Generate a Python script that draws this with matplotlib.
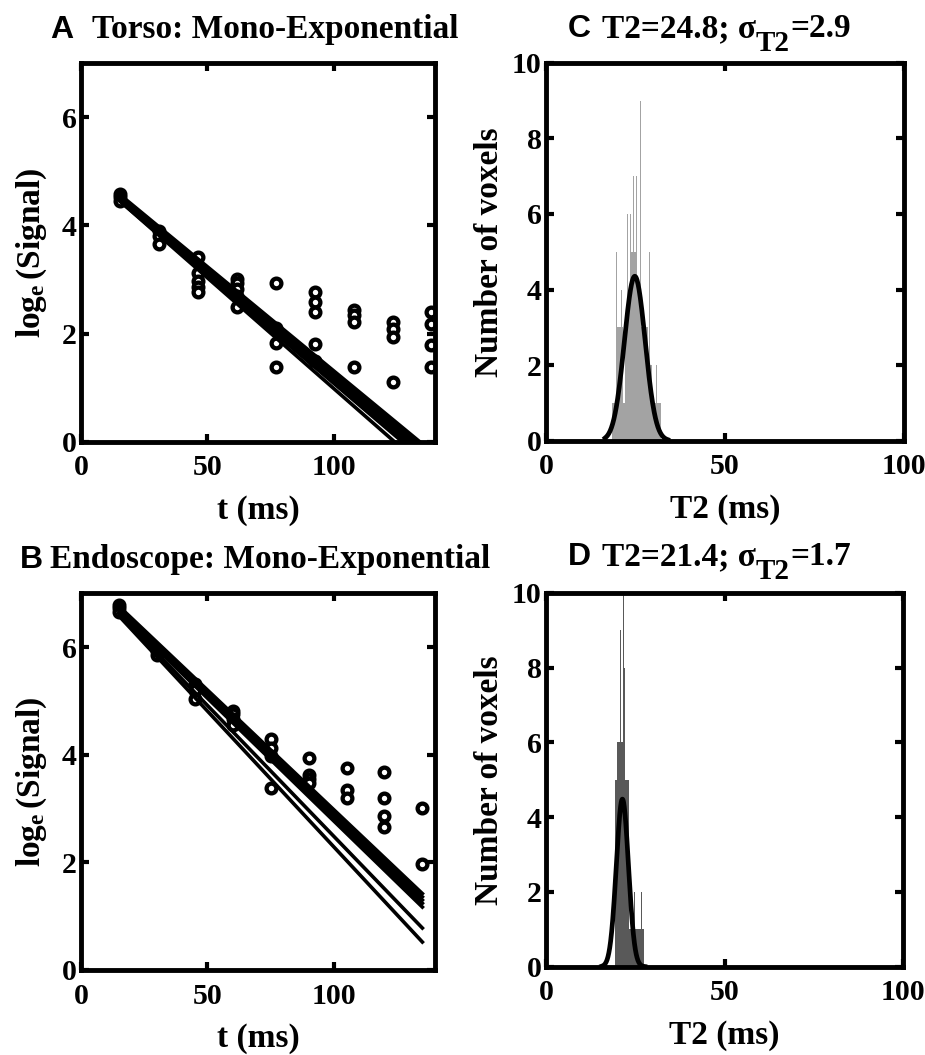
import numpy as np
import matplotlib
matplotlib.use("Agg")
import matplotlib.pyplot as plt

plt.rcParams['font.family'] = ['Liberation Serif', 'DejaVu Serif']
plt.rcParams['font.weight'] = 'bold'
plt.rcParams['axes.labelweight'] = 'bold'
plt.rcParams['mathtext.fontset'] = 'custom'
plt.rcParams['mathtext.rm'] = 'Liberation Serif:bold'
plt.rcParams['mathtext.bf'] = 'Liberation Serif:bold'
plt.rcParams['mathtext.it'] = 'Liberation Serif:bold'

# --- panel A: torso, log signal per echo time ---
torso_te = [15.4, 30.8, 46.2, 61.6, 77.0, 92.4, 107.8, 123.2, 138.6]
torso_signal = [
    [4.58, 4.52, 4.46],
    [3.90, 3.80, 3.66],
    [3.41, 3.12, 2.98, 2.86, 2.77],
    [3.01, 2.94, 2.82, 2.70, 2.49],
    [2.93, 2.10, 1.82, 1.38],
    [2.77, 2.58, 2.40, 1.80, 1.50],
    [2.43, 2.34, 2.21, 1.38],
    [2.21, 2.09, 1.94, 1.11],
    [2.40, 2.18, 1.78, 1.38],
]
# fitted lines: value at first and last echo
torso_fit_start = [4.45, 4.45, 4.48, 4.50, 4.52, 4.55, 4.57]
torso_fit_end = [-0.60, -0.46, -0.40, -0.34, -0.28, -0.22, -0.18]

# --- panel B: endoscope ---
endo_te = [15, 30, 45, 60, 75, 90, 105, 120, 135]
endo_signal = [
    [6.78, 6.72, 6.66],
    [5.92, 5.86],
    [5.32, 5.20, 5.04],
    [4.82, 4.76, 4.67, 4.55],
    [4.29, 4.12, 3.98, 3.38],
    [3.94, 3.63, 3.54, 3.48],
    [3.75, 3.35, 3.20],
    [3.68, 3.20, 2.86, 2.65],
    [3.01, 1.97],
]
endo_fit_start = [6.76, 6.73, 6.70, 6.68, 6.65, 6.62, 6.58]
endo_fit_end = [1.42, 1.36, 1.30, 1.24, 1.17, 0.78, 0.52]

# --- panel C: torso T2 histogram ---
torso_bins = [18.75, 19.25, 19.75, 20.25, 20.75, 21.25, 21.75, 22.25, 22.75,
              23.25, 23.75, 24.25, 24.75, 25.25, 25.75, 26.25, 26.75, 27.25,
              27.75, 28.25, 28.75, 29.25, 29.75, 30.25, 30.75, 31.25, 31.75]
torso_counts = [1, 1, 3, 3, 3, 3, 1, 3, 3, 4, 5, 5, 5, 4, 4, 4, 3, 3,
                3, 3, 2, 2, 1, 1, 1, 1, 1]
torso_spike_t2 = [19.8, 21.1, 22.7, 23.6, 24.4, 25.4, 26.4, 28.9, 31.0]
torso_spike_counts = [5, 4, 6, 6, 7, 7, 9, 5, 2]
torso_mean, torso_sd, torso_peak = 24.8, 2.9, 4.35
torso_fit_range = (16.5, 34.0)

# --- panel D: endoscope T2 histogram ---
endo_bins = [19.5, 20.0, 20.5, 21.0, 21.5, 22.0, 22.5, 23.0, 23.5, 24.0,
             24.5, 25.0, 25.5, 26.0, 26.5, 27.0]
endo_counts = [5, 6, 6, 6, 6, 5, 5, 5, 1, 1, 1, 1, 1, 1, 1, 1]
endo_spike_t2 = [20.9, 21.6, 22.1, 24.9, 26.7, 27.2]
endo_spike_counts = [9, 10, 8, 2, 2, 1]
endo_mean, endo_sd, endo_peak = 21.4, 1.7, 4.48
endo_fit_range = (15.6, 27.7)

W, H = 925, 1055
fig = plt.figure(figsize=(W / 100, H / 100), dpi=100)


def box(px_left, px_top, px_right, px_bottom):
    return [px_left / W, 1 - px_bottom / H,
            (px_right - px_left) / W, (px_bottom - px_top) / H]


def style(ax):
    for s in ax.spines.values():
        s.set_linewidth(3.5)
    ax.tick_params(direction='in', length=6, width=3, top=True, right=True,
                   labelsize=21.5)
    ax.tick_params(axis='x', pad=9)
    ax.tick_params(axis='y', pad=3)


def decay_panel(ax, te, signal, fit_start, fit_end):
    xs = [t for t, vals in zip(te, signal) for _ in vals]
    ys = [v for vals in signal for v in vals]
    ax.plot(xs, ys, 'o', ms=7, mfc='white', mec='black', mew=3.1, zorder=2)
    for y0, y1 in zip(fit_start, fit_end):
        ax.plot([te[0], te[-1]], [y0, y1], color='black', lw=2.6, zorder=3)
    ax.set_xlim(0, 140)
    ax.set_ylim(0, 7)
    ax.set_xticks([0, 50, 100])
    ax.set_yticks([0, 2, 4, 6])
    ax.set_xlabel('t (ms)', fontsize=24, labelpad=10)
    ax.set_ylabel('log$_{\\mathrm{e}}\\,$(Signal)', fontsize=24, labelpad=9)
    style(ax)


def hist_panel(ax, bins, counts, spikes, spike_counts, color, mean, sd, peak, rng):
    ax.bar(bins, counts, width=0.5, color=color, linewidth=0, zorder=1)
    ax.bar(spikes, spike_counts, width=0.28, color=color, linewidth=0, zorder=1)
    x = np.linspace(rng[0], rng[1], 200)
    ax.plot(x, peak * np.exp(-0.5 * ((x - mean) / sd) ** 2), color='black',
            lw=3.4, zorder=3)
    ax.set_xlim(0, 100)
    ax.set_ylim(0, 10)
    ax.set_xticks([0, 50, 100])
    ax.set_yticks([0, 2, 4, 6, 8, 10])
    ax.set_xlabel('T2 (ms)', fontsize=24, labelpad=10)
    ax.set_ylabel('Number of voxels', fontsize=24, labelpad=5)
    style(ax)


ax_a = fig.add_axes(box(81, 63.3, 435, 441.7))
ax_c = fig.add_axes(box(546, 62.7, 904, 440.7))
ax_b = fig.add_axes(box(81, 593.3, 435, 970))
ax_d = fig.add_axes(box(546, 592.7, 903, 966.7))

decay_panel(ax_a, torso_te, torso_signal, torso_fit_start, torso_fit_end)
decay_panel(ax_b, endo_te, endo_signal, endo_fit_start, endo_fit_end)
hist_panel(ax_c, torso_bins, torso_counts, torso_spike_t2, torso_spike_counts,
           '#a3a3a3', torso_mean, torso_sd, torso_peak, torso_fit_range)
hist_panel(ax_d, endo_bins, endo_counts, endo_spike_t2, endo_spike_counts,
           '#595959', endo_mean, endo_sd, endo_peak, endo_fit_range)

# panel letters and titles
letter_font = dict(family='Liberation Sans', weight='bold', fontsize=23)
fig.text(50 / W, 1 - 38.3 / H, 'A', va='baseline', **letter_font)
fig.text(92 / W, 1 - 38.3 / H, 'Torso: Mono-Exponential', va='baseline', fontsize=24)
fig.text(20 / W, 1 - 568.3 / H, 'B', va='baseline', **letter_font)
fig.text(50 / W, 1 - 568.3 / H, 'Endoscope: Mono-Exponential', va='baseline', fontsize=24)


def sigma_title(ax, letter, x_letter, x_text, y_base, mean, sd):
    fig.text(x_letter / W, 1 - y_base / H, letter, va='baseline', **letter_font)
    t1 = fig.text(x_text / W, 1 - y_base / H, f'T2={mean}; σ', va='baseline',
                  fontsize=24)
    t2 = ax.annotate('T2', xy=(1, 0), xycoords=t1, xytext=(0, -9.5),
                     textcoords='offset points', va='bottom', fontsize=21,
                     annotation_clip=False)
    ax.annotate(f'={sd}', xy=(1, 0), xycoords=t2, xytext=(0, 9.5),
                textcoords='offset points', va='bottom', fontsize=24,
                annotation_clip=False)


sigma_title(ax_c, 'C', 568, 602, 37, torso_mean, torso_sd)
sigma_title(ax_d, 'D', 568, 602, 565, endo_mean, endo_sd)

fig.savefig('out.png', dpi=100)
